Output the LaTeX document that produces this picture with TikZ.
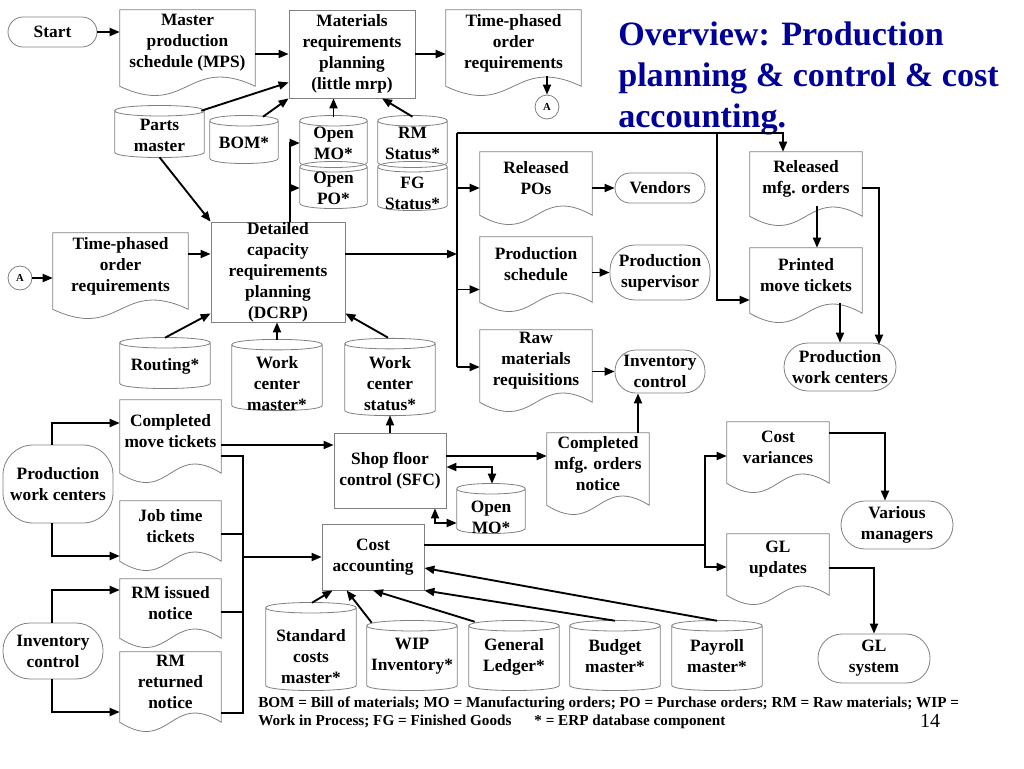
\documentclass[tikz,border=0pt]{standalone}
\usepackage{fontspec}
\setmainfont{Liberation Serif}
\usepackage{tikz}
\usetikzlibrary{positioning,arrows.meta,calc}
\definecolor{titleblue}{RGB}{0,0,153}
\definecolor{outline}{RGB}{128,128,128}

\begin{document}
\begin{tikzpicture}[x=0.75pt, y=-0.75pt,
  base/.style={align=center, inner sep=0pt, font=\bfseries\fontsize{13}{15.75}\selectfont},
  dims/.style 2 args={minimum width=#1*0.75pt, minimum height=#2*0.75pt},
  proc/.style={base, draw=outline, line width=0.6pt},
  term/.style={base, draw=outline, line width=0.6pt, rounded corners=#1},
  term/.default=18pt,
  doc/.style={base, append after command={\pgfextra{\draw[outline, line width=0.6pt]
    (\tikzlastnode.north west) -- (\tikzlastnode.north east) -- ($(\tikzlastnode.south east)+(0,10)$)
    .. controls ($(\tikzlastnode.south east)!0.5!(\tikzlastnode.south west)+(0,-22)$)
    and ($(\tikzlastnode.south east)!0.5!(\tikzlastnode.south west)+(0,42)$)
    .. ($(\tikzlastnode.south west)+(0,10)$) -- cycle;}}},
  db/.style 2 args={base, append after command={\pgfextra{\draw[outline, line width=0.6pt]
    ($(\tikzlastnode.north west)+(0,-#1)$) -- ($(\tikzlastnode.south west)+(0,-#2)$)
    .. controls +(0,7) and +(0,7) .. ($(\tikzlastnode.south east)+(0,-#2)$)
    -- ($(\tikzlastnode.north east)+(0,-#1)$)
    .. controls +(0,-7) and +(0,-7) .. ($(\tikzlastnode.north west)+(0,-#1)$)
    .. controls +(0,7) and +(0,7) .. ($(\tikzlastnode.north east)+(0,-#1)$);}}},
  db/.default={0}{0},
  conn/.style={circle, draw=outline, line width=0.6pt, minimum size=18pt, inner sep=0pt, font=\bfseries\fontsize{8}{9}\selectfont},
  link/.style={line width=1.4pt},
  arrow/.style={link, -{Triangle[length=7.5pt,width=6pt]}},
  darrow/.style={link, {Triangle[length=7.5pt,width=6pt]}-{Triangle[length=7.5pt,width=6pt]}}
]
\path[fill=white] (0,0) rectangle (1024,768);
\useasboundingbox (0,0) rectangle (1024,768);

\node[anchor=north west, inner sep=0pt, align=left, text=titleblue, font=\bfseries\fontsize{25.6}{30.75}\selectfont] (title) at (618,21.4) {Overview: Production\\planning \& control \& cost\\accounting.};

\node[term=11.25pt, dims={89}{30}] (start) at (52.5,32) {Start};
\node[doc, dims={135}{66}] (mps) at (187.5,43) {Master\\production\\schedule (MPS)};
\node[proc, dims={126}{88}] (mrp) at (352,54) {Materials\\requirements\\planning\\(little mrp)};
\node[doc, dims={135}{66}] (tpotop) at (513.5,43) {Time-phased\\order\\requirements};
\node[conn] (atop) at (547,107) {A};
\node[db={8}{0}, dims={89}{33}] (parts) at (159.5,135.5) {Parts\\master};
\node[db={7}{0}, dims={68}{30}] (bom) at (244,143) {BOM*};
\node[db={3}{0}, dims={67}{38}] (openmo) at (333.5,143) {Open\\MO*};
\node[db={4.5}{1.5}, dims={67}{33}] (openpo) at (333.5,188) {Open\\PO*};
\node[db={3}{0}, dims={69}{38}] (rmstat) at (412.5,143) {RM\\Status*};
\node[db={10}{5}, dims={69}{33}] (fgstat) at (412.5,193.5) {FG\\Status*};

\node[proc, dims={134}{100}] (dcrp) at (278,272) {Detailed\\capacity\\requirements\\planning\\(DCRP)};
\node[doc, dims={135}{66}] (tpoleft) at (120.5,266) {Time-phased\\order\\requirements};
\node[conn] (aleft) at (20,278) {A};
\node[db={6}{0}, dims={90}{34}] (routing) at (165,366) {Routing*};
\node[db={11.5}{5.5}, dims={90}{54}] (wcmaster) at (277,383.5) {Work\\center\\master*};
\node[db={13}{1}, dims={90}{54}] (wcstatus) at (390,384) {Work\\center\\status*};

\node[doc, dims={112}{53}] (relpo) at (536,178.5) {Released\\POs};
\node[doc, dims={112}{55}] (prodsched) at (536,264.5) {Production\\schedule};
\node[doc, dims={112}{62}] (rawreq) at (536,361) {Raw\\materials\\requisitions};
\node[term=11.25pt, dims={90}{30}] (vendors) at (660,188) {Vendors};
\node[term=18.75pt, dims={100}{55}] (prodsup) at (660,272.5) {Production\\supervisor};
\node[term=15.75pt, dims={90}{43}] (invright) at (660,371.5) {Inventory\\control};
\node[doc, dims={112}{54}] (relmo) at (806,179) {Released\\mfg. orders};
\node[doc, dims={112}{55}] (printed) at (806,275.5) {Printed\\move tickets};
\node[term, dims={112}{48}] (pwcright) at (840,367) {Production\\work centers};

\node[term=22.5pt, dims={110}{78}] (pwcleft) at (58,484) {Production\\work centers};
\node[doc, dims={101}{63}] (cmt) at (170.5,431.5) {Completed\\move tickets};
\node[doc, dims={101}{50}] (jtt) at (170.5,526) {Job time\\tickets};
\node[term=20.25pt, dims={100}{56}] (invleft) at (53,651) {Inventory\\control};
\node[doc, dims={101}{49}] (rmiss) at (170.5,603.5) {RM issued\\notice};
\node[doc, dims={101}{60}] (rmret) at (170.5,682) {RM\\returned\\notice};
\node[proc, dims={112}{75}] (sfc) at (390,470.5) {Shop floor\\control (SFC)};
\node[db={11.5}{5.5}, dims={68}{33}] (openmob) at (491,517) {Open\\MO*};
\node[doc, dims={102}{62}] (cmon) at (598,464) {Completed\\mfg. orders\\notice};
\node[proc, dims={102}{66}] (cost) at (373,557) {Cost\\accounting};
\node[doc, dims={102}{51}] (costvar) at (778,447.5) {Cost\\variances};
\node[doc, dims={102}{51}] (glupd) at (778,559.5) {GL\\updates};
\node[term, dims={112}{48}] (managers) at (897,525) {Various\\managers};
\node[term, dims={112}{49}] (glsys) at (874,658.5) {GL\\system};
\node[db={20}{0}, dims={90}{57}] (stdcost) at (311,656.5) {Standard\\costs\\master*};
\node[db={2}{0}, dims={90}{57}] (wip) at (412,656.5) {WIP\\Inventory*};
\node[db={2}{0}, dims={90}{57}] (gl) at (514,656.5) {General\\Ledger*};
\node[db={2}{0}, dims={90}{57}] (budget) at (615,656.5) {Budget\\master*};
\node[db={2}{0}, dims={90}{57}] (payroll) at (717,656.5) {Payroll\\master*};

\node[anchor=north west, inner sep=0pt, align=left, font=\bfseries\fontsize{11.4}{13.5}\selectfont] (legend) at (258,697) {BOM = Bill of materials; MO = Manufacturing orders; PO = Purchase orders; RM = Raw materials; WIP =\\Work in Process; FG = Finished Goods \quad\ * = ERP database component};
\node[inner sep=0pt, font=\fontsize{15}{17}\selectfont] (pagenum) at (930,721) {14};

\coordinate (bust) at (457,133);
\coordinate (busb) at (457,367);
\coordinate (tap) at (717,133);
\coordinate (lbt) at (243,456);
\coordinate (lbb) at (243,713);
\coordinate (rbus) at (705,545);
\coordinate (mofeed) at ($(dcrp.north west)+(79,0)$);
\coordinate (dcrpout) at ($(dcrp.east)+(0,-18)$);
\coordinate (schedin) at ($(prodsched.west)+(0,25)$);
\coordinate (jttout) at ($(jtt.east)+(0,8)$);
\coordinate (rmissout) at ($(rmiss.east)+(0,8.5)$);
\coordinate (cmtout) at ($(cmt.east)+(0,13.5)$);
\coordinate (sfcout) at ($(sfc.east)+(0,-14.5)$);
\coordinate (cmonout) at ($(cmon.north)+(40,0)$);
\coordinate (costout) at ($(cost.east)+(0,-12)$);

\draw[arrow] (start) -- (start -| mps.west);
\draw[arrow] (mps.east |- mrp) -- (mrp.west);
\draw[arrow] (mrp.east) -- (mrp.east -| tpotop.west);
\draw[arrow] (tpotop.south -| atop) -- (atop);
\draw[arrow] ($(parts.north east)+(-3,-8)$) -- ($(mrp.south west)+(0,-16)$);
\draw[arrow] ($(bom.north)+(19,-11)$) -- (mrp.south west);
\draw[arrow] ($(openmo.north)+(0,-7)$) -- (openmo.north |- mrp.south);
\draw[arrow] ($(rmstat.north)+(0,-7)$) -- ($(mrp.south)+(30,0)$);
\draw[arrow] ($(parts.south)+(0,5)$) -- (dcrp.north west);
\draw[arrow] (mofeed) |- (openmo.west);
\draw[arrow] (mofeed |- openpo.west) -- (openpo.west);

\draw[arrow] (aleft) -- (aleft -| tpoleft.west);
\draw[arrow] ($(tpoleft.east)+(0,-12)$) -- ($(dcrp.west)+(0,-18)$);
\draw[arrow] ($(routing.north)+(0,-11)$) -- ($(dcrp.south west)+(0,-9)$);
\draw[arrow] ($(wcmaster.north)+(0,-16)$) -- (wcmaster.north |- dcrp.south);
\draw[arrow] ($(wcstatus.north)+(-2,-19)$) -- ($(dcrp.south east)+(0,-9)$);

\draw[link] (bust) -- (busb);
\draw[arrow] (dcrpout) -- (dcrpout -| bust);
\draw[arrow] (bust |- vendors) -- (relpo.west |- vendors);
\draw[arrow] (schedin -| bust) -- (schedin);
\draw[arrow] (busb) -- (busb -| rawreq.west);
\draw[arrow] (relpo.east |- vendors) -- (vendors);
\draw[arrow] (prodsched.east |- prodsup) -- (prodsup);
\draw[arrow] (rawreq.east |- invright) -- (invright);
\draw[arrow] (bust) -| ($(relmo.north)+(-23,0)$);
\draw[arrow] (tap) |- ($(printed.west)+(0,24.5)$);
\draw[arrow] ($(relmo.south)+(11,0)$) -- ($(printed.north)+(11,0)$);
\draw[arrow] (printed.south -| pwcright) -- (pwcright.north);
\draw[arrow] ($(relmo.east)+(0,9)$) -| ($(pwcright.north)+(39,2)$);

\draw[arrow] ($(pwcleft.north)+(-6,0)$) |- ($(cmt.west)+(0,-8.5)$);
\draw[arrow] ($(pwcleft.south)+(-6,0)$) |- ($(jtt.west)+(0,30)$);
\draw[arrow] ($(invleft.north)+(-1,0)$) |- ($(rmiss.west)+(0,-13.5)$);
\draw[arrow] ($(invleft.south)+(-1,0)$) |- ($(rmret.west)+(0,30)$);
\draw[link] (cmt.east |- lbt) -- (lbt) -- (lbb) -- (rmret.east |- lbb);
\draw[link] (jttout) -- (jttout -| lbt);
\draw[link] (rmissout) -- (rmissout -| lbt);
\draw[arrow] (lbt |- cost) -- (cost.west);
\draw[arrow] (cmtout) -- (cmtout -| sfc.west);
\draw[arrow] (sfc.north) -- ($(wcstatus.south)+(0,4)$);
\draw[arrow] (sfcout) -- (sfcout -| cmon.west);
\draw[arrow] (cmonout) -- (cmonout |- invright.south);
\draw[darrow] ($(sfc.east)+(0,-3.5)$) -| ($(openmob.north)+(1,-16.5)$);
\draw[darrow] ($(sfc.south)+(45,0)$) |- ($(openmob.west)+(0,6)$);

\draw[link] (costout) -- (rbus);
\draw[arrow] (rbus) |- ($(costvar.west)+(0,8.5)$);
\draw[arrow] (rbus) |- ($(glupd.west)+(0,7.5)$);
\draw[arrow] ($(costvar.east)+(0,-14.5)$) -| ($(managers.north)+(-12,0)$);
\draw[arrow] ($(glupd.east)+(0,8.5)$) -| (glsys.north);
\draw[arrow] ($(stdcost.north)+(1,-25)$) -- ($(cost.south west)+(11,0)$);
\draw[arrow] ($(wip.north west)+(5,-5)$) -- ($(cost.south west)+(25,0)$);
\draw[arrow] ($(gl.north west)+(6,-6)$) -- (cost.south);
\draw[arrow] ($(budget.north)+(0,-7)$) -- (cost.south east);
\draw[arrow] ($(payroll.north)+(0,-7)$) -- ($(cost.east)+(0,11)$);
\end{tikzpicture}
\end{document}
